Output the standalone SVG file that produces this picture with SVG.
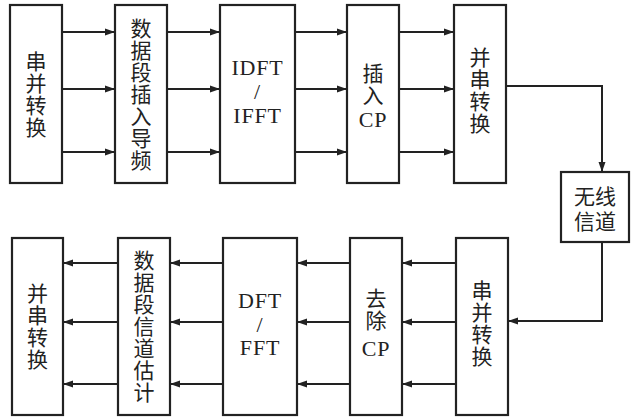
<svg xmlns="http://www.w3.org/2000/svg" width="631" height="418" viewBox="0 0 631 418">
<style>
.box{fill:#fff;stroke:#222;stroke-width:2.2}
.ln{fill:none;stroke:#222;stroke-width:2;marker-end:url(#ah)}
.zh{font-family:"Noto Sans CJK SC",sans-serif;font-size:21px;fill:#222;text-anchor:middle}
.en{font-family:"Liberation Serif",serif;font-size:22px;fill:#222;text-anchor:middle;letter-spacing:0.8px}
</style>
<defs>
<marker id="ah" markerUnits="userSpaceOnUse" markerWidth="11" markerHeight="8" refX="10" refY="4" orient="auto">
<path d="M0,0.5 L10,4 L0,7.5 z" fill="#222"/>
</marker>
</defs>
<rect width="631" height="418" fill="#fff"/>
<g id="n1"><rect class="box" x="10" y="5" width="52" height="178"/>
<text class="zh" x="36" y="69">串<tspan x="36" dy="22">并</tspan><tspan x="36" dy="22">转</tspan><tspan x="36" dy="22">换</tspan></text></g>
<g id="n2"><rect class="box" x="115" y="5" width="52" height="178"/>
<text class="zh" x="141" y="36">数<tspan x="141" dy="22">据</tspan><tspan x="141" dy="22">段</tspan><tspan x="141" dy="22">插</tspan><tspan x="141" dy="22">入</tspan><tspan x="141" dy="22">导</tspan><tspan x="141" dy="22">频</tspan></text></g>
<g id="n3"><rect class="box" x="220" y="5" width="75" height="178"/>
<text class="en" x="257.5" y="75">IDFT<tspan x="257.5" dy="24">/</tspan><tspan x="257.5" dy="24">IFFT</tspan></text></g>
<g id="n4"><rect class="box" x="347" y="5" width="52" height="178"/>
<text class="zh" x="373" y="81">插<tspan x="373" dy="22">入</tspan></text>
<text class="en" x="373" y="127">CP</text></g>
<g id="n5"><rect class="box" x="454" y="5" width="52" height="178"/>
<text class="zh" x="480" y="65">并<tspan x="480" dy="22">串</tspan><tspan x="480" dy="22">转</tspan><tspan x="480" dy="22">换</tspan></text></g>
<g id="n6"><rect class="box" x="561" y="172" width="68" height="70"/>
<text class="zh" x="595" y="204">无线<tspan x="595" dy="25">信道</tspan></text></g>
<g id="n7"><rect class="box" x="456" y="238" width="52" height="177"/>
<text class="zh" x="482" y="298">串<tspan x="482" dy="22">并</tspan><tspan x="482" dy="22">转</tspan><tspan x="482" dy="22">换</tspan></text></g>
<g id="n8"><rect class="box" x="350" y="238" width="52" height="177"/>
<text class="zh" x="376" y="306">去<tspan x="376" dy="22">除</tspan></text>
<text class="en" x="376" y="356">CP</text></g>
<g id="n9"><rect class="box" x="223" y="238" width="74" height="177"/>
<text class="en" x="260" y="308">DFT<tspan x="260" dy="24">/</tspan><tspan x="260" dy="23">FFT</tspan></text></g>
<g id="n10"><rect class="box" x="118" y="238" width="52" height="177"/>
<text class="zh" x="144" y="268">数<tspan x="144" dy="22">据</tspan><tspan x="144" dy="22">段</tspan><tspan x="144" dy="22">信</tspan><tspan x="144" dy="22">道</tspan><tspan x="144" dy="22">估</tspan><tspan x="144" dy="22">计</tspan></text></g>
<g id="n11"><rect class="box" x="12" y="238" width="51" height="177"/>
<text class="zh" x="37.5" y="301">并<tspan x="37.5" dy="22">串</tspan><tspan x="37.5" dy="22">转</tspan><tspan x="37.5" dy="22">换</tspan></text></g>
<g id="connectors">
<path class="ln" d="M62,32H115"/><path class="ln" d="M62,89H115"/><path class="ln" d="M62,152H115"/>
<path class="ln" d="M167,32H220"/><path class="ln" d="M167,89H220"/><path class="ln" d="M167,152H220"/>
<path class="ln" d="M295,32H347"/><path class="ln" d="M295,89H347"/><path class="ln" d="M295,152H347"/>
<path class="ln" d="M399,32H454"/><path class="ln" d="M399,89H454"/><path class="ln" d="M399,152H454"/>
<path class="ln" d="M506,86H602V172"/>
<path class="ln" d="M602,242V321H508"/>
<path class="ln" d="M456,263H402"/><path class="ln" d="M456,322H402"/><path class="ln" d="M456,384H402"/>
<path class="ln" d="M350,263H297"/><path class="ln" d="M350,322H297"/><path class="ln" d="M350,384H297"/>
<path class="ln" d="M223,263H170"/><path class="ln" d="M223,322H170"/><path class="ln" d="M223,384H170"/>
<path class="ln" d="M118,263H63"/><path class="ln" d="M118,322H63"/><path class="ln" d="M118,384H63"/>
</g>
</svg>
